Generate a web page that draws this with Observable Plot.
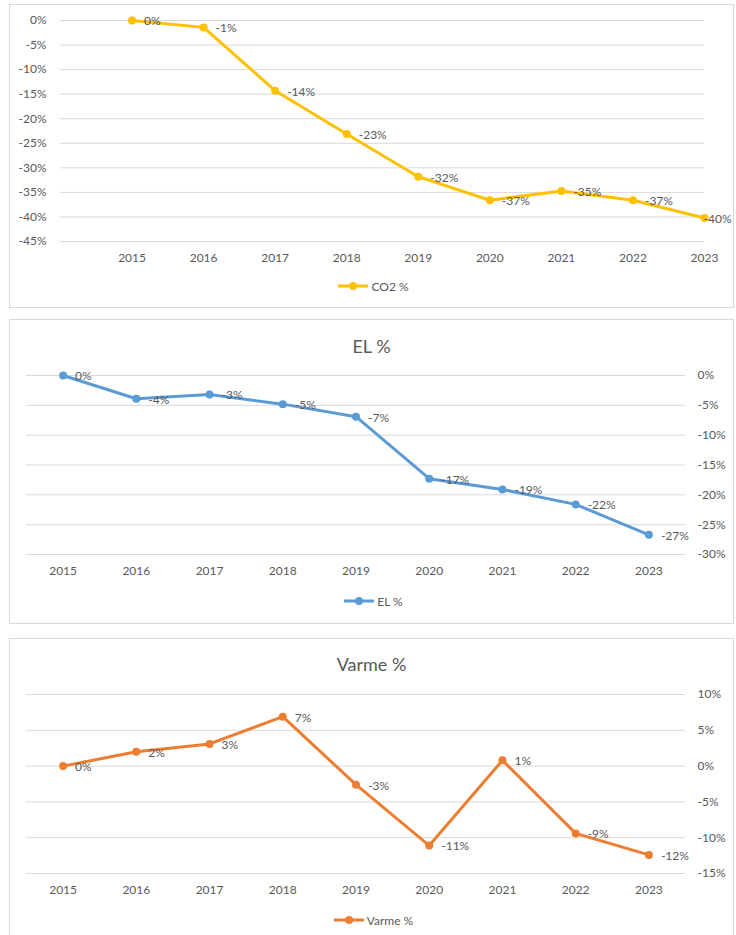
<!DOCTYPE html>
<html>
<head>
<meta charset="utf-8">
<script src="https://cdn.jsdelivr.net/npm/d3@7"></script>
<script src="https://cdn.jsdelivr.net/npm/@observablehq/plot@0.6"></script>
<style>
  body { margin: 0; width: 736px; height: 935px; overflow: hidden; background: #fff;
         font-family: Lato, "Open Sans", sans-serif; color: #595959; }
  .panel { position: absolute; left: 9px; width: 723px; border: 1px solid #D9D9D9; background: #fff; }
  .panel svg.chart { position: absolute; left: 0; top: 0; }
  .title { position: absolute; left: 0; right: 0; text-align: center; font-size: 18px; line-height: 20px; }
  .legend { position: absolute; left: 0; right: 0; height: 16px; display: flex; justify-content: center;
            align-items: center; font-size: 12px; }
  .legend svg { margin-right: 3px; }
</style>
</head>
<body>
<div id="p1" class="panel" style="top:4px;height:302px"></div>
<div id="p2" class="panel" style="top:319px;height:303px"></div>
<div id="p3" class="panel" style="top:638px;height:303px"></div>
<script>
// ---- data ----
const years = [2015, 2016, 2017, 2018, 2019, 2020, 2021, 2022, 2023];
const co2Values = [0, -1.4, -14.3, -23.1, -31.8, -36.6, -34.7, -36.6, -40.2];
const elValues = [0, -3.9, -3.2, -4.8, -6.9, -17.3, -19.1, -21.6, -26.7];
const varmeValues = [0, 2.0, 3.1, 6.9, -2.6, -11.1, 0.8, -9.4, -12.4];
const co2Ticks = [0, -5, -10, -15, -20, -25, -30, -35, -40, -45];
const elTicks = [0, -5, -10, -15, -20, -25, -30];
const varmeTicks = [10, 5, 0, -5, -10, -15];
const seriesNames = ["CO2 %", "EL %", "Varme %"];
const colors = ["#FFC000", "#5B9BD5", "#ED7D31"];

function pct(v) { return `${v}%`; }

function makePanel(o) {
  const data = years.map((year, i) => ({year, value: o.values[i]}));
  const labelText = d => pct(Math.round(d.value));
  const last = data[data.length - 1];
  const mainLabels = o.lastDx == null ? data : data.slice(0, -1);
  const marks = [
    Plot.ruleY(o.ticks, {stroke: "#D9D9D9", strokeWidth: 1}),
    Plot.line(data, {x: "year", y: "value", stroke: o.color, strokeWidth: 3}),
    Plot.dot(data, {x: "year", y: "value", fill: o.color, r: 4}),
    Plot.text(mainLabels, {x: "year", y: "value", text: labelText, textAnchor: "start", dx: 12, dy: 1, fill: "#595959"})
  ];
  if (o.lastDx != null) {
    marks.push(Plot.text([last], {x: "year", y: "value", text: labelText, textAnchor: "start", dx: o.lastDx, dy: 1, fill: "#595959"}));
  }
  const chart = Plot.plot({
    width: 723,
    height: 265,
    marginTop: o.marginTop,
    marginBottom: 265 - o.bottom,
    marginLeft: o.marginLeft,
    marginRight: o.marginRight,
    style: {fontFamily: "Lato, 'Open Sans', sans-serif", fontSize: "12px", color: "#595959", background: "transparent", overflow: "visible"},
    x: {domain: o.xDomain, ticks: years, tickFormat: d => String(d), tickSize: 0, tickPadding: 12, label: null},
    y: {domain: o.yDomain, ticks: o.ticks, tickFormat: pct, tickSize: 0, tickPadding: o.yPad, label: null, axis: o.yAxis},
    marks
  });
  chart.classList.add("chart");
  const panel = document.getElementById(o.id);
  panel.appendChild(chart);
  if (o.title) {
    const t = document.createElement("div");
    t.className = "title";
    t.style.top = (o.titleY - 10) + "px";
    t.textContent = o.title;
    panel.appendChild(t);
  }
  const lg = document.createElement("div");
  lg.className = "legend";
  lg.style.top = "273px";
  lg.style.paddingLeft = "4px";
  lg.innerHTML = `<svg width="30" height="10"><line x1="0" x2="30" y1="5" y2="5" stroke="${o.color}" stroke-width="3"/><circle cx="15" cy="5" r="4" fill="${o.color}"/></svg><span></span>`;
  lg.querySelector("span").textContent = o.name;
  panel.appendChild(lg);
}

makePanel({id: "p1", values: co2Values, color: colors[0], name: seriesNames[0],
  ticks: co2Ticks, yDomain: [-45, 0], xDomain: [2014, 2023],
  marginTop: 15, bottom: 236, marginLeft: 50, marginRight: 29, yAxis: "left", yPad: 14, lastDx: -1});

makePanel({id: "p2", values: elValues, color: colors[1], name: seriesNames[1], title: "EL %", titleY: 26,
  ticks: elTicks, yDomain: [-30, 0], xDomain: [2014.5, 2023.5],
  marginTop: 55, bottom: 234, marginLeft: 16, marginRight: 48, yAxis: "right", yPad: 12});

makePanel({id: "p3", values: varmeValues, color: colors[2], name: seriesNames[2], title: "Varme %", titleY: 25,
  ticks: varmeTicks, yDomain: [-15, 10], xDomain: [2014.5, 2023.5],
  marginTop: 55, bottom: 234, marginLeft: 16, marginRight: 48, yAxis: "right", yPad: 12});
</script>
</body>
</html>
